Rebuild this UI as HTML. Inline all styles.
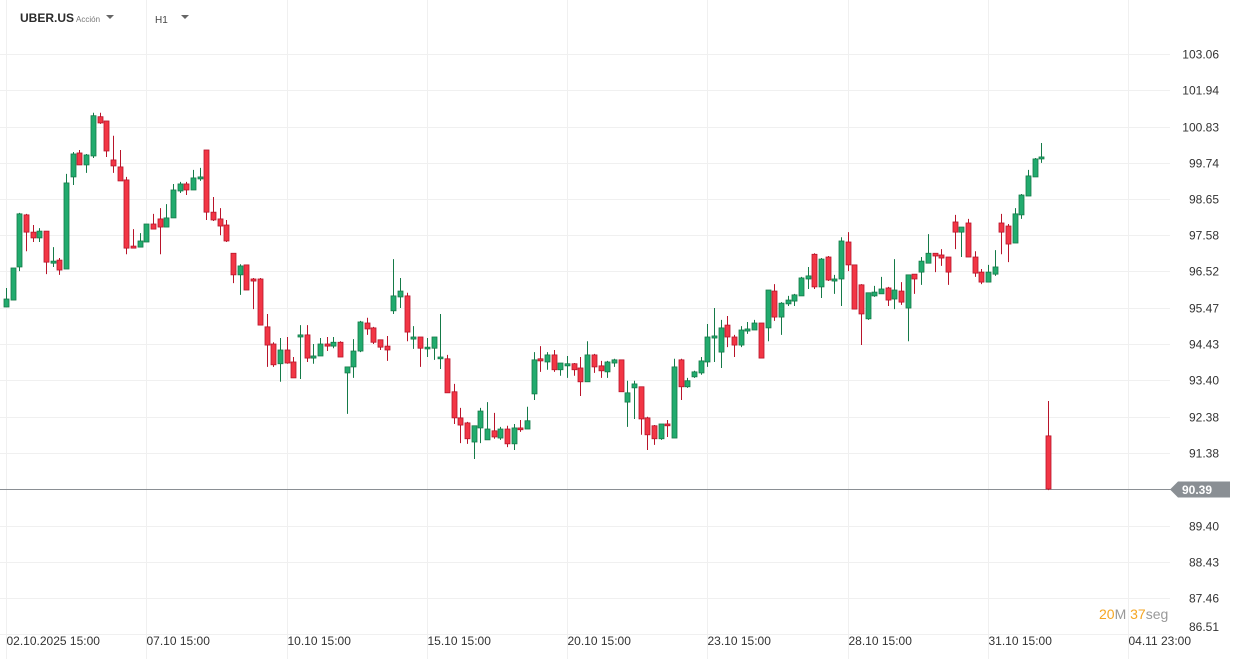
<!DOCTYPE html>
<html><head><meta charset="utf-8">
<style>
html,body{margin:0;padding:0;background:#fff;}
body{width:1242px;height:659px;overflow:hidden;font-family:"Liberation Sans",sans-serif;position:relative;}
svg{position:absolute;left:0;top:0;}
</style></head>
<body>
<svg id="chart" width="1242" height="659">
  <g id="grid"></g>
  <g id="candles"></g>
  <g id="yaxis"></g>
  <g id="xaxis"></g>
  <g>
    <text x="20" y="22" font-size="12" font-weight="bold" fill="#2b2b2b">UBER.US</text>
    <text x="76" y="22" font-size="8" fill="#777">Acción</text>
    <path d="M106 15 L114 15 L110 19 Z" fill="#666"/>
    <text x="155" y="23" font-size="10" fill="#444">H1</text>
    <path d="M181 15 L189 15 L185 19 Z" fill="#666"/>
  </g>
  <g>
    <text x="1099" y="619" font-size="14"><tspan fill="#f5a623">20</tspan><tspan fill="#999">M </tspan><tspan fill="#f5a623">37</tspan><tspan fill="#999">seg</tspan></text>
  </g>
</svg>
<script>
const candleOpen=[95.49,95.69,96.65,98.18,97.67,97.50,97.70,96.76,96.85,96.59,99.31,100.03,99.67,99.94,101.13,101.00,99.82,99.61,99.22,97.26,97.23,97.38,97.91,98.06,97.82,98.09,98.89,99.10,98.92,99.25,100.12,98.26,98.06,97.88,97.05,96.42,96.71,96.30,96.30,94.92,94.43,93.87,94.26,93.92,94.63,94.69,94.03,94.09,94.43,94.37,94.48,93.61,93.78,94.23,95.03,94.89,94.55,94.37,95.38,95.78,95.81,94.57,94.63,94.29,94.31,94.01,94.01,93.08,92.35,92.21,91.68,92.07,91.74,91.99,91.79,92.04,91.63,92.07,92.04,93.02,94.01,93.92,94.12,93.70,93.81,93.87,93.75,93.36,94.12,93.81,93.64,93.89,93.98,92.79,93.19,93.22,92.35,92.13,91.77,92.18,91.79,93.98,93.22,93.50,93.61,93.92,94.60,94.20,94.97,94.63,94.40,94.80,94.83,95.03,94.89,95.95,95.20,95.58,95.66,95.81,96.30,97.02,96.07,96.94,96.24,96.30,97.38,96.71,96.13,95.15,95.81,95.87,96.04,95.72,95.95,95.46,96.44,96.50,96.76,97.05,97.00,96.94,97.97,97.67,97.94,96.94,96.50,96.21,96.44,97.94,97.85,97.35,98.18,98.74,99.31,99.85,91.85];
const candleHigh=[96.04,96.62,98.24,98.21,97.88,97.79,97.70,97.23,96.91,99.40,100.06,100.12,100.00,101.25,101.25,101.00,100.55,100.12,99.31,97.76,97.64,97.91,98.21,98.38,98.50,99.10,99.16,99.16,99.52,99.58,100.12,98.71,98.38,98.03,97.05,96.73,96.71,96.33,96.33,95.29,94.48,94.60,94.63,94.06,94.97,94.97,94.43,94.60,94.63,94.63,94.51,93.78,94.57,95.09,95.18,94.92,94.55,94.66,96.88,96.33,95.90,94.94,94.63,94.60,94.63,95.29,94.12,93.30,92.63,92.24,92.13,92.63,92.79,92.49,92.10,92.13,92.18,92.29,92.66,94.20,94.37,94.20,94.26,93.89,94.09,93.89,94.06,94.51,94.15,93.95,93.95,94.01,93.98,93.39,93.39,93.22,92.38,92.15,92.18,92.29,94.01,94.01,93.47,93.67,94.06,95.00,95.46,95.12,95.23,94.69,94.94,95.06,95.12,95.03,95.98,96.15,95.63,95.81,95.87,96.36,96.65,97.05,96.91,96.97,96.42,97.52,97.67,96.71,96.15,95.90,96.10,96.36,96.07,96.88,96.21,96.42,96.44,96.94,97.61,97.05,97.17,96.94,98.18,97.82,98.06,97.11,96.59,96.71,97.14,98.21,97.91,98.38,98.80,99.52,99.88,100.33,92.82];
const candleLow=[95.49,95.69,96.53,97.11,97.38,97.38,96.44,96.65,96.42,96.59,99.07,99.67,99.43,99.88,100.91,99.91,99.43,99.19,97.02,97.20,97.23,97.38,97.76,97.02,97.82,98.09,98.83,98.77,98.92,99.19,98.03,98.00,97.58,97.38,96.18,95.84,95.98,95.43,94.97,93.78,93.78,93.36,93.87,93.47,93.44,93.92,93.87,94.09,94.23,94.31,94.06,92.46,93.47,94.20,94.69,94.43,94.26,93.95,95.29,95.46,94.51,94.29,93.78,94.06,93.98,93.72,93.05,92.18,91.65,91.63,91.21,91.65,91.74,91.77,91.74,91.54,91.46,91.96,92.04,92.85,93.64,93.70,93.64,93.53,93.47,93.53,92.96,93.36,93.61,93.47,93.47,93.78,93.08,92.10,92.32,91.88,91.46,91.60,91.74,91.82,91.79,92.85,93.19,93.47,93.56,93.78,93.92,93.75,94.34,94.06,94.34,94.72,94.83,94.03,94.51,95.09,94.69,95.52,95.52,95.81,96.01,96.01,95.75,96.24,95.87,95.52,96.53,95.43,94.40,95.12,95.78,95.87,95.52,95.43,95.55,94.51,95.87,96.13,96.76,96.50,96.68,96.13,97.17,96.94,96.94,96.36,96.15,96.21,96.39,97.02,96.79,97.35,98.06,98.74,99.31,99.73,90.36];
const candleClose=[95.72,96.62,98.21,97.67,97.50,97.70,96.79,96.82,96.56,99.13,100.00,99.67,99.97,101.16,100.94,100.09,99.64,99.19,97.20,97.20,97.41,97.91,97.76,97.82,98.09,98.92,99.10,98.92,99.28,99.31,98.26,98.03,97.85,97.41,96.42,96.68,95.98,96.24,94.97,94.40,93.84,94.26,93.89,93.47,94.69,94.03,94.09,94.43,94.37,94.48,94.06,93.78,94.23,95.06,94.86,94.48,94.34,94.26,95.81,95.95,94.77,94.63,94.31,94.34,94.63,94.06,93.05,92.35,92.15,91.77,92.13,92.54,92.04,91.82,92.04,91.63,92.07,92.02,92.27,93.98,93.95,94.12,93.70,93.89,93.87,93.70,93.36,94.12,93.78,93.67,93.92,93.98,93.08,93.05,93.30,92.32,91.88,91.77,92.18,92.13,93.78,93.22,93.39,93.64,93.95,94.63,94.66,94.89,94.63,94.40,94.83,94.86,95.03,94.03,95.98,95.20,95.60,95.69,95.84,96.33,96.39,96.07,96.88,96.27,96.30,97.41,96.71,95.43,95.29,95.90,95.92,96.01,95.69,95.98,95.63,96.42,96.30,96.82,97.05,96.97,96.91,96.50,97.67,97.82,96.94,96.47,96.21,96.50,96.65,97.67,97.32,98.21,98.77,99.34,99.85,99.91,90.39];
const priceTicks=[103.06,101.94,100.83,99.74,98.65,97.58,96.52,95.47,94.43,93.40,92.38,91.38,89.40,88.43,87.46,86.51];
const timeLabels=["02.10.2025 15:00","07.10 15:00","10.10 15:00","15.10 15:00","20.10 15:00","23.10 15:00","28.10 15:00","31.10 15:00","04.11 23:00"];
const lastPrice=90.39;

const NS="http://www.w3.org/2000/svg";
const PLOT_RIGHT=1170;
function yScale(p){return 489-3316*Math.log(p/90.39);}
function xScale(i){return 6+i*6.68;}
function mk(tag,attrs,parent){const e=document.createElementNS(NS,tag);for(const k in attrs)e.setAttribute(k,attrs[k]);parent.appendChild(e);return e;}

const grid=document.getElementById('grid');
const yaxis=document.getElementById('yaxis');
const xaxis=document.getElementById('xaxis');
const cg=document.getElementById('candles');

priceTicks.forEach(v=>{
  const y=Math.round(yScale(v))+0.5;
  const l=mk('line',{x1:0,x2:PLOT_RIGHT,y1:y,y2:y,stroke:'#f0f0f0','stroke-width':1},grid);
  
  
  const t=mk('text',{x:1219,y:Math.min(y+4,631),'font-size':12,'text-anchor':'end',fill:'#333'},yaxis);
  t.textContent=v.toFixed(2);
  
  
});
timeLabels.forEach((s,k)=>{
  const x=Math.round(xScale(k*21))+0.5;
  const l=mk('line',{x1:x,x2:x,y1:0,y2:659,stroke:'#f0f0f0','stroke-width':1},grid);
  
  
  const t=mk('text',{x:x,y:645,'font-size':12,fill:'#333'},xaxis);
  t.textContent=s;
  
  
});

candleOpen.forEach((o,i)=>{
  const h=candleHigh[i],lo=candleLow[i],c=candleClose[i];
  const up=c>=o;
  const x=Math.round(xScale(i));
  const fill=up?'#22ab6e':'#f23645', stroke=up?'#157a48':'#b8142a';
  const g=mk('g',{},cg);
  
  
  mk('line',{x1:x+0.5,x2:x+0.5,y1:yScale(h),y2:yScale(lo),stroke:stroke,'stroke-width':1},g);
  const top=yScale(Math.max(o,c)), bot=yScale(Math.min(o,c));
  mk('rect',{x:x-2,y:top,width:5,height:Math.max(1.5,bot-top),fill:fill,stroke:stroke,'stroke-width':0.8},g);
});

const ly=Math.round(yScale(lastPrice))+0.5;
const pl=mk('line',{x1:0,x2:1172,y1:ly,y2:ly,stroke:'#8a8f94','stroke-width':1},grid);


const badge=mk('path',{d:`M1170 ${ly} L1178 ${ly-8} L1230 ${ly-8} L1230 ${ly+8} L1178 ${ly+8} Z`,fill:'#8a8f94'},yaxis);


const bt=mk('text',{x:1197,y:ly+4.5,'font-size':12,'font-weight':'bold','text-anchor':'middle',fill:'#fff'},yaxis);
bt.textContent=lastPrice.toFixed(2);


</script>
</body></html>
